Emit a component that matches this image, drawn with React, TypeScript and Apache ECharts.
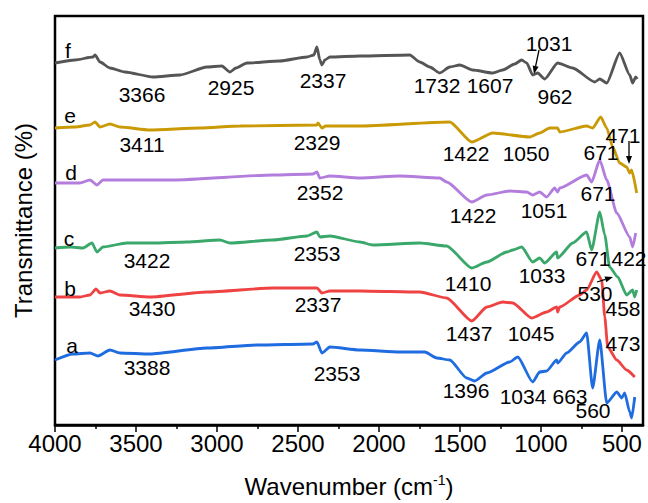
import React, { useEffect, useRef } from "react";
import * as echarts from "echarts";

// FTIR spectra: [wavenumber (cm-1), transmittance (offset, arbitrary units)]
const seriesF: [number, number][] = [
  [4000, 362], [3877, 365], [3766, 368], [3753, 370], [3722, 363], [3661, 357], [3568, 353],
  [3395, 348], [3229, 350], [3062, 358], [2970, 359], [2920, 353], [2883, 357], [2815, 362],
  [2612, 364], [2445, 368], [2402, 370], [2383, 378], [2365, 365], [2352, 360], [2334, 365],
  [2303, 368], [2118, 369], [1810, 370], [1748, 363], [1686, 358], [1625, 352], [1563, 358],
  [1501, 360], [1421, 355], [1298, 352], [1236, 355], [1162, 361], [1119, 365], [1088, 362],
  [1051, 350], [1020, 352], [977, 346], [897, 362], [804, 357], [668, 343], [637, 346],
  [594, 342], [514, 372], [452, 350], [434, 342], [415, 348], [405, 346],
];
const seriesE: [number, number][] = [
  [4000, 297], [3877, 298], [3784, 300], [3753, 303], [3722, 298], [3661, 301], [3599, 298],
  [3414, 295], [3105, 297], [2858, 299], [2383, 300], [2377, 302], [2352, 297], [2328, 299],
  [2118, 299], [1563, 303], [1427, 283], [1298, 292], [1069, 288], [1008, 292], [946, 297],
  [897, 297], [884, 293], [718, 299], [681, 297], [631, 308], [594, 297], [557, 278],
  [514, 262], [471, 258], [452, 252], [440, 255], [409, 232],
];
const seriesD: [number, number][] = [
  [4000, 242], [3846, 242], [3784, 245], [3741, 240], [3704, 245], [3599, 245], [3272, 245],
  [2655, 250], [2408, 251], [2383, 253], [2365, 247], [2303, 249], [2118, 247], [1871, 249],
  [1625, 247], [1582, 243], [1427, 223], [1334, 230], [1193, 234], [1088, 233], [1051, 230],
  [1008, 233], [965, 228], [915, 237], [897, 233], [884, 237], [718, 250], [687, 243],
  [637, 265], [594, 245], [532, 212], [452, 188], [434, 178], [415, 192],
];
const seriesC: [number, number][] = [
  [4000, 177], [3907, 178], [3827, 177], [3772, 182], [3741, 173], [3704, 178], [3556, 182],
  [3395, 182], [3186, 183], [2982, 185], [2920, 182], [2655, 185], [2445, 189], [2383, 193],
  [2365, 188], [2303, 189], [2118, 183], [2038, 180], [1748, 182], [1582, 179], [1427, 157],
  [1334, 163], [1211, 173], [1174, 175], [1119, 178], [1051, 163], [1008, 167], [977, 162],
  [903, 173], [897, 167], [804, 182], [718, 193], [687, 175], [637, 213], [606, 190],
  [576, 158], [526, 148], [471, 130], [434, 135], [421, 128], [409, 135],
];
const seriesB: [number, number][] = [
  [4000, 128], [3846, 128], [3784, 130], [3747, 136], [3722, 132], [3661, 134], [3599, 130],
  [3414, 128], [3062, 133], [2655, 137], [2383, 137], [2352, 132], [2303, 134], [2118, 134],
  [1748, 133], [1582, 127], [1427, 104], [1334, 118], [1236, 123], [1174, 122], [1057, 107],
  [965, 113], [903, 118], [897, 113], [884, 118], [761, 130], [718, 135], [656, 153],
  [625, 145], [606, 108], [588, 78], [532, 65], [471, 55], [421, 48],
];
const seriesA: [number, number][] = [
  [4000, 65], [3889, 71], [3784, 72], [3735, 69], [3661, 75], [3599, 72], [3414, 71],
  [3062, 77], [2753, 80], [2408, 81], [2383, 83], [2352, 72], [2303, 78], [2118, 75],
  [1871, 73], [1717, 73], [1643, 67], [1563, 65], [1458, 47], [1409, 44], [1334, 52],
  [1193, 63], [1143, 68], [1051, 43], [1008, 53], [965, 54], [903, 65], [897, 62],
  [841, 72], [761, 83], [718, 92], [681, 37], [637, 85], [594, 22], [532, 33], [501, 27],
  [483, 32], [452, 13], [440, 7], [421, 28],
];

const seriesNames = ["a", "b", "c", "d", "e", "f"];
const seriesColors = ["#1f6be0", "#ef4343", "#3aa86a", "#b27ddd", "#c99a05", "#555555"];
const seriesData = [seriesA, seriesB, seriesC, seriesD, seriesE, seriesF];

const majorTicks = [4000, 3500, 3000, 2500, 2000, 1500, 1000, 500];
const minorTicks = [3750, 3250, 2750, 2250, 1750, 1250, 750];

// Peak annotations: text with centre position in pixels
const annotations: { t: string; x: number; y: number }[] = [
  { t: "f", x: 68, y: 50 }, { t: "3366", x: 142, y: 94 }, { t: "2925", x: 231, y: 87 },
  { t: "2337", x: 323, y: 80 }, { t: "1732", x: 437, y: 85 }, { t: "1607", x: 490, y: 85 },
  { t: "1031", x: 549, y: 43 }, { t: "962", x: 555, y: 96 },
  { t: "e", x: 70, y: 115 }, { t: "3411", x: 142, y: 144 }, { t: "2329", x: 317, y: 142 },
  { t: "1422", x: 466, y: 153 }, { t: "1050", x: 526, y: 153 }, { t: "671", x: 601, y: 152 },
  { t: "471", x: 623, y: 135 },
  { t: "d", x: 71, y: 172 }, { t: "2352", x: 320, y: 192 }, { t: "1422", x: 473, y: 215 },
  { t: "1051", x: 544, y: 210 }, { t: "671", x: 598, y: 193 },
  { t: "c", x: 69, y: 238 }, { t: "3422", x: 147, y: 260 }, { t: "2353", x: 317, y: 253 },
  { t: "1410", x: 468, y: 283 }, { t: "1033", x: 542, y: 275 }, { t: "671", x: 593, y: 258 },
  { t: "422", x: 629, y: 258 }, { t: "530", x: 595, y: 293 }, { t: "458", x: 623, y: 308 },
  { t: "b", x: 70, y: 288 }, { t: "3430", x: 152, y: 308 }, { t: "2337", x: 318, y: 304 },
  { t: "1437", x: 469, y: 333 }, { t: "1045", x: 531, y: 333 }, { t: "473", x: 623, y: 343 },
  { t: "a", x: 72, y: 345 }, { t: "3388", x: 147, y: 367 }, { t: "2353", x: 337, y: 373 },
  { t: "1396", x: 466, y: 390 }, { t: "1034", x: 523, y: 396 }, { t: "663", x: 570, y: 396 },
  { t: "560", x: 593, y: 410 },
];

// Arrows: [x1, y1, x2(tip), y2(tip)]
const arrows: [number, number, number, number][] = [
  [539, 50, 534, 74],
  [629, 141, 629, 164],
  [597, 282, 613, 277],
];

const FONT = "'Liberation Sans', Arial, Helvetica, sans-serif";

function arrowGraphics() {
  const out: any[] = [];
  arrows.forEach(([x1, y1, x2, y2]) => {
    const dx = x2 - x1, dy = y2 - y1;
    const len = Math.hypot(dx, dy);
    const ux = dx / len, uy = dy / len;
    const bx = x2 - 8 * ux, by = y2 - 8 * uy;
    const px = -uy, py = ux;
    out.push({
      type: "line",
      shape: { x1, y1, x2: bx, y2: by },
      style: { stroke: "#000", lineWidth: 1.3 },
      z: 100,
    });
    out.push({
      type: "polygon",
      shape: { points: [[x2, y2], [bx + 3 * px, by + 3 * py], [bx - 3 * px, by - 3 * py]] },
      style: { fill: "#000" },
      z: 100,
    });
  });
  return out;
}

export default function App() {
  const ref = useRef<HTMLDivElement>(null);
  useEffect(() => {
    if (!ref.current) return;
    const chart = echarts.init(ref.current, undefined, { renderer: "svg" });
    const option: any = {
      animation: false,
      backgroundColor: "#fff",
      grid: {
        left: 55, right: 5, top: 16, bottom: 78,
        show: true, borderColor: "#000", borderWidth: 2.5, backgroundColor: "transparent",
      },
      xAxis: [
        {
          type: "value", min: 370, max: 4000, inverse: true, position: "bottom",
          axisLine: { show: true, onZero: false, lineStyle: { color: "#000", width: 2.5 } },
          axisTick: { show: true, inside: false, length: 7, customValues: majorTicks, lineStyle: { color: "#000", width: 1.5 } },
          axisLabel: {
            show: true, customValues: majorTicks, fontSize: 24, color: "#000", fontFamily: FONT, margin: 6,
            formatter: (v: number) => String(v),
          },
          splitLine: { show: false },
          name: "Wavenumber (cm{sup|-1})",
          nameLocation: "middle",
          nameGap: 48,
          nameTextStyle: {
            fontSize: 24, color: "#000", fontFamily: FONT,
            rich: { sup: { fontSize: 14, color: "#000", fontFamily: FONT, verticalAlign: "top", padding: [0, 0, 12, 0] } },
          },
        },
        {
          type: "value", min: 370, max: 4000, inverse: true, position: "bottom", gridIndex: 0,
          axisLine: { show: false },
          axisTick: { show: true, inside: false, length: 4, customValues: minorTicks, lineStyle: { color: "#000", width: 1.5 } },
          axisLabel: { show: false },
          splitLine: { show: false },
        },
      ],
      yAxis: {
        type: "value", min: 0, max: 409,
        axisLine: { show: false }, axisTick: { show: false }, axisLabel: { show: false },
        splitLine: { show: false },
        name: "Transmittance (%)", nameLocation: "middle", nameRotate: 90, nameGap: 20,
        nameTextStyle: { fontSize: 24, color: "#000", fontFamily: FONT },
      },
      series: seriesData.map((d, i) => ({
        name: seriesNames[i],
        type: "line",
        xAxisIndex: 0,
        data: d,
        showSymbol: false,
        symbol: "none",
        smooth: 0.2,
        smoothMonotone: "x",
        lineStyle: { color: seriesColors[i], width: 2.8 },
        itemStyle: { color: seriesColors[i] },
        z: 2 + i,
      })),
      graphic: [
        ...annotations.map((a) => ({
          type: "text",
          x: a.x, y: a.y,
          z: 100,
          style: { text: a.t, fontSize: 21, fill: "#000", fontFamily: FONT, align: "center", verticalAlign: "middle" },
        })),
        ...arrowGraphics(),
      ],
    };
    chart.setOption(option);
    return () => chart.dispose();
  }, []);
  return <div ref={ref} style={{ position: "fixed", left: 0, top: 0, width: 648, height: 503 }} />;
}
